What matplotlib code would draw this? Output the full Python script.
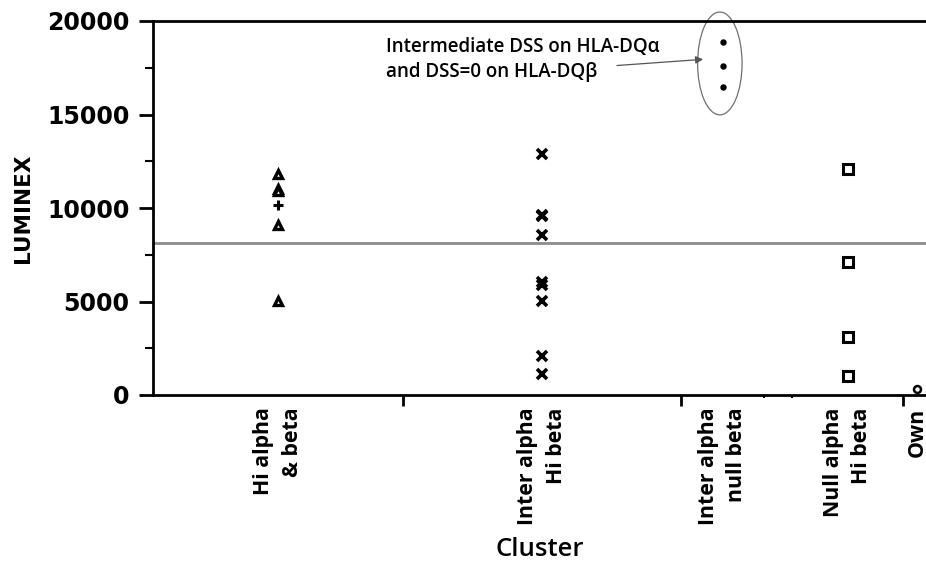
import matplotlib
matplotlib.use("Agg")
import matplotlib.pyplot as plt
from matplotlib.patches import Ellipse

# cluster names and their widths on the axis (JMP style, width ~ row count)
clusters = ["Hi alpha\n& beta", "Inter alpha\nHi beta", "Inter alpha\nnull beta", "",
            "Null alpha\nHi beta", "Own"]
cluster_widths = [9, 10, 3, 1, 4, 1]

# LUMINEX values
hi_alpha_beta = [11800, 11000, 10900, 9070, 5050]
hi_alpha_beta_plus = [10150]
inter_alpha_hi_beta = [12900, 9650, 9550, 8530, 6050, 5900, 5010, 2080, 1120]
inter_alpha_null_beta = [18880, 17600, 16480]
null_alpha_hi_beta = [12100, 7090, 3090, 1010]
own = [320]
cutoff = 8150

edges = [0]
for w in cluster_widths:
    edges.append(edges[-1] + w)
centers = [(edges[i] + edges[i + 1]) / 2 for i in range(len(cluster_widths))]

fig = plt.figure(figsize=(9.26, 5.65), dpi=100)
ax = fig.add_axes([153 / 926, 170 / 565, 778 / 926, 374 / 565])

ax.axhline(cutoff, color="#8c8c8c", lw=2, zorder=1)

ax.plot([centers[0]] * len(hi_alpha_beta), hi_alpha_beta, ls="none", marker="^",
        ms=6, mfc="white", mec="black", mew=2.4)
ax.plot([centers[0]] * len(hi_alpha_beta_plus), hi_alpha_beta_plus, ls="none", marker="+",
        ms=7, mec="black", mew=2.2)
ax.plot([centers[1]] * len(inter_alpha_hi_beta), inter_alpha_hi_beta, ls="none", marker="x",
        ms=7, mec="black", mew=2.6)
ax.plot([centers[2]] * len(inter_alpha_null_beta), inter_alpha_null_beta, ls="none", marker="o",
        ms=3.6, mfc="black", mec="black")
ax.plot([centers[4]] * len(null_alpha_hi_beta), null_alpha_hi_beta, ls="none", marker="s",
        ms=7, mfc="white", mec="black", mew=2.2)
ax.plot([centers[5]] * len(own), own, ls="none", marker="o", ms=5, mfc="white",
        mec="black", mew=1.8, clip_on=False)

# ellipse round the three dots, and the note with its arrow
ell = Ellipse((centers[2] - 0.1, 17730), width=1.6, height=5500, fill=False,
              ec="#707070", lw=0.9, clip_on=False)
ax.add_patch(ell)
ax.text(8.4, 17950, "Intermediate DSS on HLA-DQα\nand DSS=0 on HLA-DQβ",
        fontsize=13.5, fontfamily="Open Sans", fontweight="semibold",
        va="center", ha="left", linespacing=1.3)
ax.annotate("", xy=(19.8, 17950), xytext=(16.7, 17620),
            arrowprops=dict(arrowstyle="-|>", color="#555555", lw=0.9,
                            shrinkA=0, shrinkB=0, mutation_scale=11))

ax.set_xlim(edges[0], edges[-1])
ax.set_ylim(0, 20000)

ax.set_yticks([0, 5000, 10000, 15000, 20000])
ax.set_yticks([2500, 7500, 12500, 17500], minor=True)
ax.tick_params(axis="y", which="major", length=10, width=2, direction="out", pad=7)
ax.tick_params(axis="y", which="minor", length=6, width=1.5, direction="out")
for lab in ax.get_yticklabels():
    lab.set_fontweight("bold")
    lab.set_fontsize(17)

ax.set_xticks([edges[1], edges[2], edges[5]])
ax.set_xticks([edges[3], edges[4]], minor=True)
ax.set_xticklabels([])
ax.tick_params(axis="x", which="major", length=8, width=2, direction="out")
ax.tick_params(axis="x", which="minor", length=2, width=1.5, direction="out")

for c, name in zip(centers, clusters):
    ax.annotate(name, xy=(c, 0), xycoords=("data", "axes fraction"),
                xytext=(0, -9), textcoords="offset points",
                rotation=90, ha="center", va="top",
                fontsize=15.3, fontfamily="Open Sans", fontweight="bold",
                multialignment="right", linespacing=1.45, annotation_clip=False)

ax.set_ylabel("LUMINEX", fontsize=15.5, fontweight="bold", labelpad=10)
fig.text(540 / 926, 1 - 550 / 565, "Cluster", ha="center", va="center",
         fontsize=18.5, fontfamily="Open Sans", fontweight="semibold")

for side in ["left", "bottom", "top"]:
    ax.spines[side].set_linewidth(2)
ax.spines["right"].set_visible(False)

fig.savefig("out.png", dpi=100)
